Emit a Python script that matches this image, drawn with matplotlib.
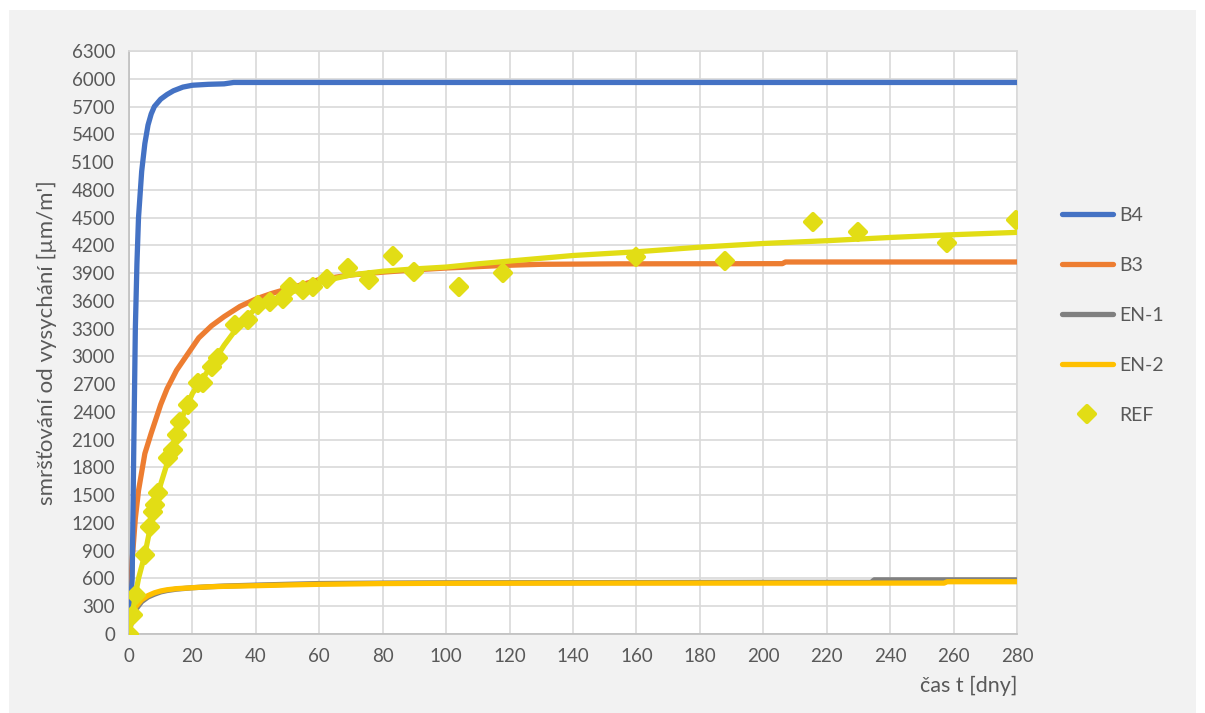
import matplotlib.pyplot as plt
from matplotlib.patches import Rectangle
from matplotlib.lines import Line2D
from matplotlib.markers import MarkerStyle

plt.rcParams['font.family'] = ['Lato', 'DejaVu Sans']

# B4
t_b4 = [0, 1, 1.5, 2, 2.5, 3, 4, 5, 6, 7, 8, 10, 12, 14, 17, 20, 25, 30, 33, 280]
b4 = [0, 600, 2000, 3300, 4000, 4500, 5000, 5300, 5500, 5620, 5700, 5780, 5830,
      5870, 5910, 5930, 5940, 5945, 5960, 5960]

# B3
t_b3 = [0, 0.5, 1, 2, 3, 5, 7, 10, 12, 15, 18, 22, 26, 30, 35, 40, 45, 50, 60, 70,
        80, 90, 100, 110, 120, 130, 155, 206, 207, 280]
b3 = [0, 450, 800, 1250, 1550, 1950, 2170, 2480, 2650, 2850, 3000, 3200, 3330,
      3430, 3540, 3620, 3680, 3730, 3830, 3880, 3910, 3935, 3955, 3970, 3985,
      3995, 4000, 4002, 4020, 4020]

# EN-1, EN-2
t_en1 = [0, 1, 2, 4, 6, 8, 10, 12, 15, 20, 25, 30, 40, 50, 60, 80, 100, 150, 200,
         234, 235, 280]
en1 = [0, 170, 260, 350, 400, 430, 455, 470, 485, 500, 510, 518, 528, 537, 545,
       550, 553, 555, 558, 558, 585, 585]
t_en2 = [0, 1, 2, 4, 6, 8, 10, 12, 15, 20, 25, 30, 40, 50, 60, 80, 100, 150, 200,
         257, 258, 280]
en2 = [0, 200, 290, 370, 415, 445, 465, 478, 490, 500, 510, 515, 522, 530, 537,
       545, 548, 550, 550, 550, 565, 565]

# REF fit line
t_fit = [0, 1, 2, 3, 5, 7, 10, 13, 16, 20, 25, 30, 35, 40, 45, 50, 56, 62, 70, 80,
         90, 100, 110, 120, 140, 160, 180, 200, 220, 240, 260, 280]
fit = [0, 200, 420, 600, 860, 1200, 1620, 1950, 2280, 2600, 2850, 3120, 3350, 3520,
       3600, 3680, 3750, 3820, 3880, 3920, 3945, 3965, 4000, 4030, 4090, 4130,
       4180, 4220, 4250, 4285, 4315, 4340]

# REF measured points
t_ref = [0, 1.3, 2.2, 5, 6.6, 7.6, 8.2, 9.2, 12.3, 13.9, 15.1, 16.1, 18.7, 21.8,
         23.4, 26.1, 28, 33.4, 37.5, 40.7, 44.5, 48.6, 50.8, 54.9, 58, 62.4, 69,
         75.7, 83.3, 89.9, 104, 118, 160, 188, 215.7, 229.9, 258, 279.7]
ref = [0, 205, 420, 855, 1156, 1318, 1394, 1524, 1902, 1988, 2150, 2290, 2475,
       2712, 2712, 2885, 2982, 3339, 3393, 3555, 3588, 3620, 3750, 3717, 3750,
       3840, 3950, 3830, 4090, 3910, 3750, 3900, 4070, 4030, 4450, 4340, 4230, 4470]

c_b4 = '#4472c4'
c_b3 = '#ed7d31'
c_en1 = '#808080'
c_en2 = '#ffc000'
c_ref = '#e2dd15'
txt = '#595959'

fig = plt.figure(figsize=(12.05, 7.13), dpi=100, facecolor='white')
fig.patches.append(Rectangle((9 / 1205, 0), 1187 / 1205, 703 / 713,
                             transform=fig.transFigure, facecolor='#f2f2f2',
                             edgecolor='none', zorder=-10))
ax = fig.add_axes([129 / 1205, 1 - 634 / 713, 888 / 1205, 583 / 713])
ax.set_facecolor('white')

diamond = MarkerStyle('D', joinstyle='round')

lw = 3.8
ax.plot(t_en1, en1, color=c_en1, lw=lw, solid_capstyle='round', zorder=3)
ax.plot(t_en2, en2, color=c_en2, lw=lw, solid_capstyle='round', zorder=4)
ax.plot(t_b3, b3, color=c_b3, lw=lw, solid_capstyle='round', zorder=5)
ax.plot(t_b4, b4, color=c_b4, lw=lw, solid_capstyle='round', zorder=6)
ax.plot(t_fit, fit, color=c_ref, lw=lw, solid_capstyle='round', zorder=7)
ax.plot(t_ref, ref, linestyle='none', marker=diamond, markersize=8,
        markeredgewidth=3, color=c_ref, markeredgecolor=c_ref, zorder=8)

ax.set_xlim(0, 280)
ax.set_ylim(0, 6300)
ax.set_xticks(range(0, 281, 20))
ax.set_yticks(range(0, 6301, 300))
ax.grid(True, color='#d9d9d9', lw=1.2)
ax.set_axisbelow(True)
for s in ax.spines.values():
    s.set_color('#d9d9d9')
    s.set_linewidth(1.2)
ax.spines['left'].set_color('#bfbfbf')
ax.spines['bottom'].set_color('#bfbfbf')
ax.tick_params(length=0, labelsize=13.5, labelcolor=txt, pad=10)

ax.set_ylabel("smršťování od vysychání [µm/m']", fontsize=16, color=txt, labelpad=10)
ax.set_xlabel("čas t [dny]", fontsize=15.5, color=txt, loc='right', labelpad=8)

handles = [
    Line2D([], [], color=c_b4, lw=lw, solid_capstyle='round'),
    Line2D([], [], color=c_b3, lw=lw, solid_capstyle='round'),
    Line2D([], [], color=c_en1, lw=lw, solid_capstyle='round'),
    Line2D([], [], color=c_en2, lw=lw, solid_capstyle='round'),
    Line2D([], [], linestyle='none', marker=diamond, markersize=8,
           markeredgewidth=3, color=c_ref),
]
leg = fig.legend(handles, ['B4', 'B3', 'EN-1', 'EN-2', 'REF'],
                 loc='upper left', bbox_to_anchor=(1062 / 1205, 1 - 207 / 713),
                 frameon=False, fontsize=14, handlelength=2.6,
                 handletextpad=0.35, labelspacing=1.7, borderpad=0,
                 borderaxespad=0)
for t in leg.get_texts():
    t.set_color(txt)

fig.savefig('out.png', dpi=100, facecolor=fig.get_facecolor())
